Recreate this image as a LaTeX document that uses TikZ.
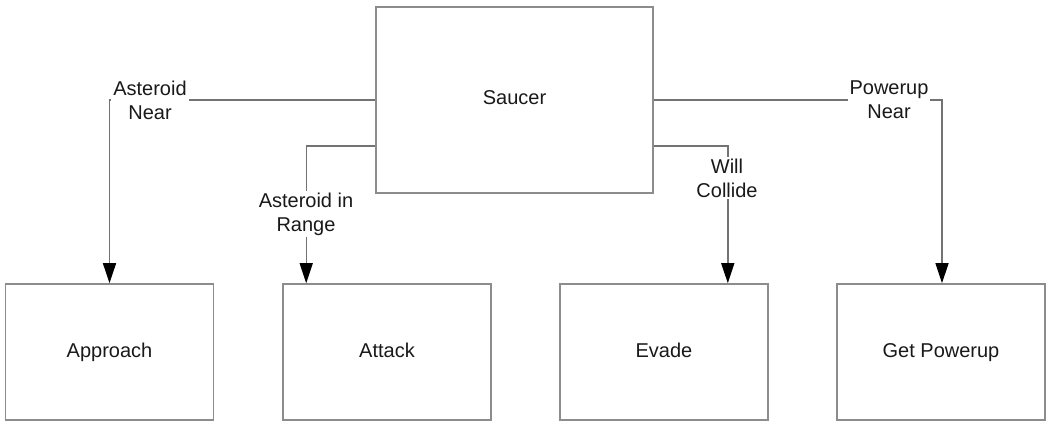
\documentclass[tikz,border=0pt]{standalone}
\usepackage{fontspec}
\setmainfont{Liberation Sans}
\usetikzlibrary{arrows.meta,calc}
\begin{document}
\begin{tikzpicture}[x=1pt,y=-1pt,
  box/.style={draw=black!45,line width=1.6pt,rectangle,inner sep=0pt,
    text=black!90,font=\fontsize{20}{24}\selectfont,text height=14pt,text depth=4pt},
  bigbox/.style={box,minimum width=277pt,minimum height=186pt},
  smallbox/.style={box,minimum width=208pt,minimum height=136pt},
  conn/.style={draw=black!55,line width=1.4pt},
  arr/.style={conn,-{Triangle[length=20pt,width=13pt,fill=black,color=black]}},
  lbl/.style={fill=white,inner sep=2pt,align=center,text=black!90,
    font=\fontsize{20}{24}\selectfont}]
\useasboundingbox (0,0) rectangle (1048,425);
\node[bigbox] (saucer) at (514.5,100) {Saucer};
\node[smallbox] (approach) at (109.5,352) {Approach};
\node[smallbox] (attack) at (387,352) {Attack};
\node[smallbox] (evade) at (664,352) {Evade};
\node[smallbox] (getpowerup) at (941,352) {Get Powerup};
\coordinate (sl2) at ($(saucer.west)+(0,46)$);
\coordinate (sr2) at ($(saucer.east)+(0,46)$);
\coordinate (atkin) at ($(attack.north west)+(24,0)$);
\coordinate (evdin) at ($(evade.north east)+(-41,0)$);
\coordinate (gpin) at ($(getpowerup.north)+(1,0)$);
\path[arr] (saucer.west) -| (approach.north);
\path[arr] (sl2) -| (atkin);
\path[arr] (saucer.east) -| (gpin);
\path[arr] (sr2) -| (evdin);
\node[lbl] (l1) at (150,100) {Asteroid\\Near};
\node[lbl] (l2) at (306,214) {Asteroid in\\Range};
\node[lbl] (l3) at (889,100) {Powerup\\Near};
\node[lbl] (l4) at (727,178) {Will\\Collide};
\end{tikzpicture}
\end{document}
